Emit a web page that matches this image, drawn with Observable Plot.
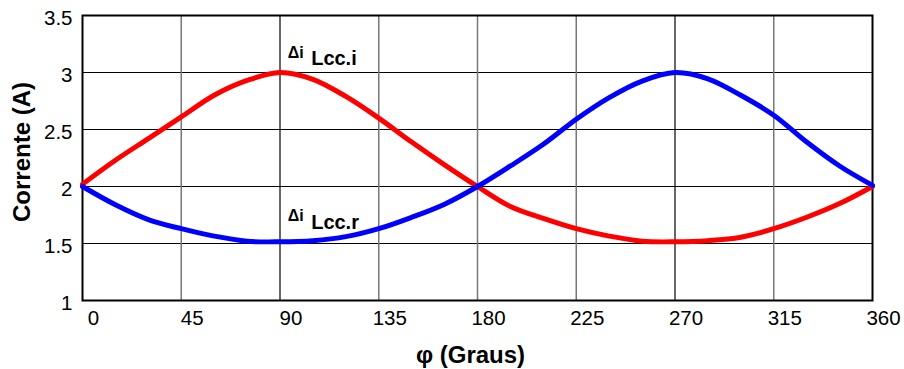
<!DOCTYPE html>
<html>
<head>
<meta charset="utf-8">
<script src="https://cdn.jsdelivr.net/npm/d3@7"></script>
<script src="https://cdn.jsdelivr.net/npm/@observablehq/plot@0.6"></script>
<style>
  html, body { margin: 0; padding: 0; background: #fff; }
  #chart svg { display: block; }
</style>
</head>
<body>
<div id="chart"></div>
<script>
// Angle φ (degrees)
const phi = [0, 15, 30, 45, 60, 75, 90, 105, 120, 135, 150, 165, 180, 195, 210, 225, 240, 255, 270, 285, 300, 315, 330, 345, 360];
// ΔiLcc.i (red)
const iLccI = [2.02, 2.23, 2.42, 2.61, 2.80, 2.93, 3.00, 2.94, 2.79, 2.60, 2.39, 2.19, 2.00, 1.825, 1.72, 1.63, 1.565, 1.52, 1.515, 1.525, 1.555, 1.63, 1.73, 1.85, 2.00];
// ΔiLcc.r (blue)
const iLccR = [2.00, 1.84, 1.71, 1.63, 1.565, 1.52, 1.515, 1.525, 1.56, 1.63, 1.73, 1.845, 2.00, 2.18, 2.37, 2.59, 2.78, 2.925, 3.00, 2.945, 2.80, 2.625, 2.39, 2.18, 2.01];

const xTicks = [0, 45, 90, 135, 180, 225, 270, 315, 360];
const yTicks = [1, 1.5, 2, 2.5, 3, 3.5];
const xGridGrey = [45, 135, 180, 225, 315];
const xGridBlack = [90, 270];
const yGrid = [1.5, 2, 2.5, 3];

// Curve labels: [phi, value, text]
const deltaLabels = [{x: 93.5, y: 3.13, t: "Δi"}, {x: 93.5, y: 1.70, t: "Δi"}];
const subLabels = [{x: 104.2, y: 3.07, t: "Lcc.i"}, {x: 104.2, y: 1.63, t: "Lcc.r"}];

const data = phi.map((p, i) => ({phi: p, red: iLccI[i], blue: iLccR[i]}));

const chart = Plot.plot({
  width: 904,
  height: 369,
  marginLeft: 82,
  marginRight: 32,
  marginTop: 15,
  marginBottom: 69,
  style: {fontFamily: "'Liberation Sans', Arial, sans-serif", background: "#fff", color: "#000"},
  x: {domain: [0, 360]},
  y: {domain: [1, 3.5]},
  marks: [
    Plot.gridY(yGrid, {stroke: "#000", strokeOpacity: 1, strokeWidth: 1.2}),
    Plot.gridX(xGridGrey, {stroke: "#777", strokeOpacity: 1, strokeWidth: 1.5}),
    Plot.gridX(xGridBlack, {stroke: "#000", strokeOpacity: 1, strokeWidth: 1.2}),
    Plot.frame({stroke: "#000", strokeWidth: 2}),
    Plot.axisX({ticks: xTicks, tickSize: 0, tickPadding: 10, dx: 11, fontSize: 20.5, label: null, tickFormat: d => String(d)}),
    Plot.axisY({ticks: yTicks, tickSize: 0, tickPadding: 10, dy: 3, fontSize: 20.5, label: null, tickFormat: d => String(d)}),
    Plot.line(data, {x: "phi", y: "red", stroke: "#ff0000", strokeWidth: 5, curve: "catmull-rom"}),
    Plot.line(data, {x: "phi", y: "blue", stroke: "#0000ff", strokeWidth: 5, curve: "catmull-rom"}),
    Plot.text(deltaLabels, {x: "x", y: "y", text: "t", fontSize: 16, fontWeight: "bold", textAnchor: "start", lineAnchor: "bottom", fill: "#000"}),
    Plot.text(subLabels, {x: "x", y: "y", text: "t", fontSize: 20, fontWeight: "bold", textAnchor: "start", lineAnchor: "bottom", fill: "#000"}),
    Plot.text(["Corrente (A)"], {frameAnchor: "left", textAnchor: "middle", dx: -60, dy: -6, rotate: -90, fontSize: 24, fontWeight: "bold", fill: "#000"}),
    Plot.text(["φ (Graus)"], {frameAnchor: "bottom", textAnchor: "middle", dx: -7, dy: 62, lineAnchor: "bottom", fontSize: 24, fontWeight: "bold", fill: "#000"})
  ]
});
document.getElementById("chart").appendChild(chart);
</script>
</body>
</html>
